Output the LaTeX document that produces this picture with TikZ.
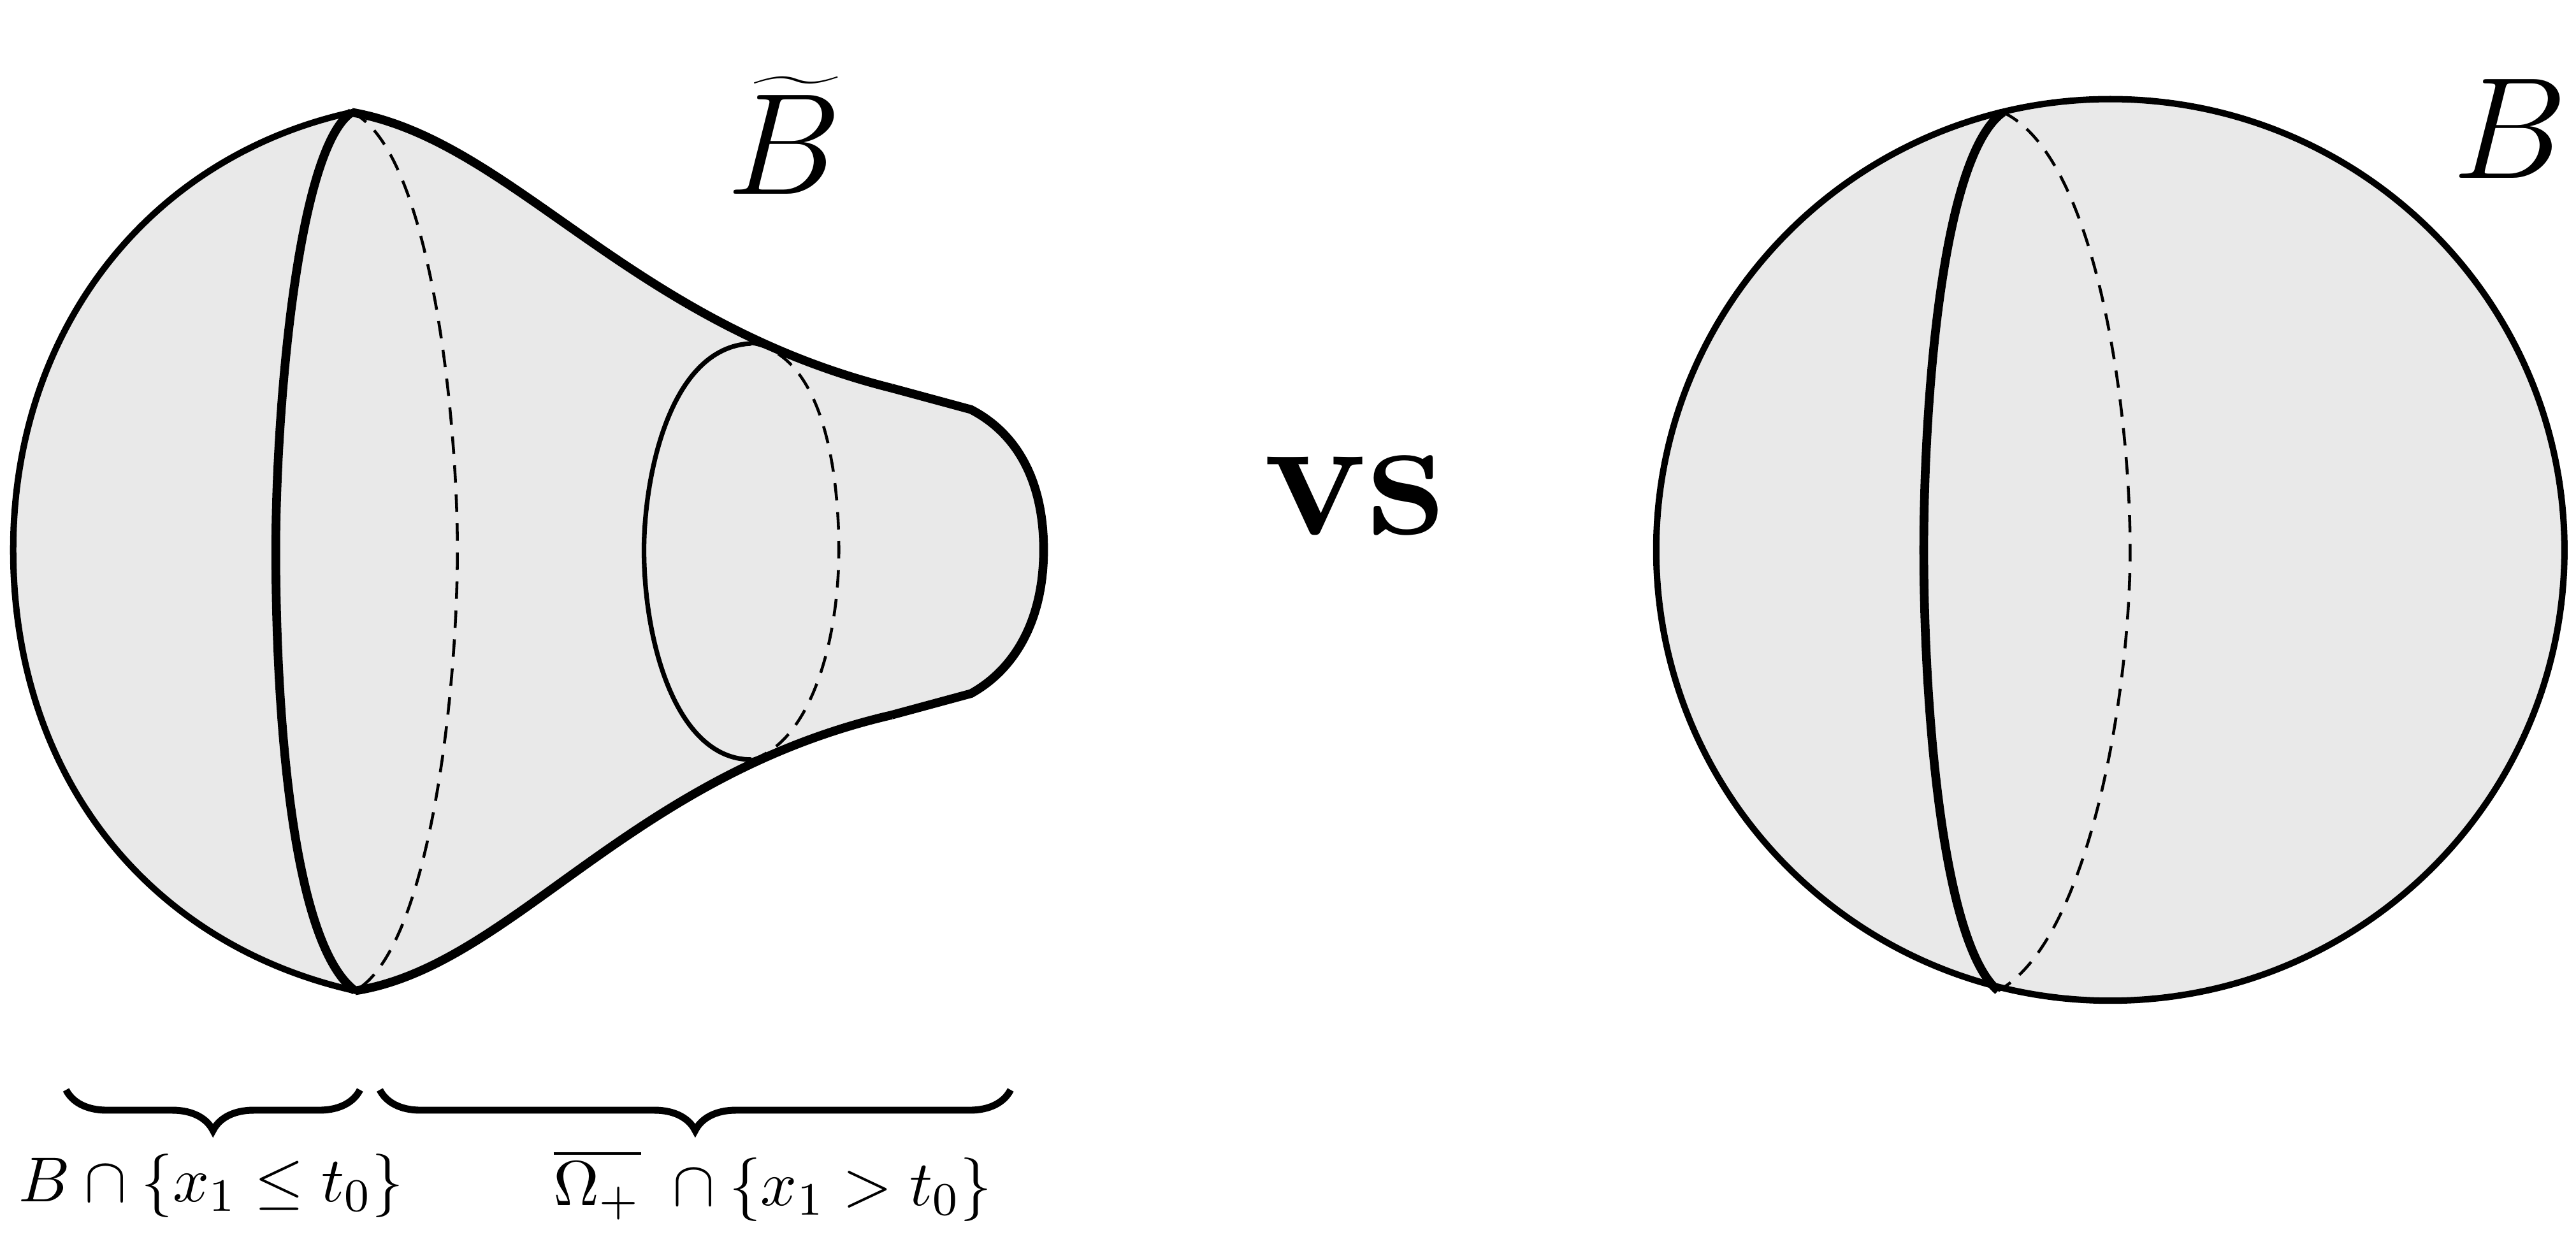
\documentclass[tikz,border=0pt]{standalone}
\usetikzlibrary{decorations.pathreplacing}
\definecolor{shade}{RGB}{233,233,233}
\tikzset{outline/.style={line width=1.1pt},rim/.style={line width=1.5pt},hid/.style={line width=0.5pt,dash pattern=on 3pt off 2pt},
brc/.style={decorate,decoration={brace,amplitude=7pt},line width=1.2pt},lab/.style={font=\fontsize{11}{13}\selectfont}}
\begin{document}
\begin{tikzpicture}[x=0.01cm,y=-0.01cm]
\useasboundingbox (0,0) rectangle (1560,753);
% left body
\filldraw[fill=shade,outline] (213,68) .. controls (90,95) and (8,200) .. (8,333) .. controls (8,470) and (90,572) .. (215,600)
 .. controls (310,585) and (380,470) .. (540,433) -- (588,420) .. controls (615,405) and (632,375) .. (632,333)
 .. controls (632,290) and (615,262) .. (588,248) -- (540,235) .. controls (380,195) and (310,85) .. (213,68) -- cycle;
\draw[rim] (540,235) .. controls (380,195) and (310,85) .. (213,68);
\draw[rim] (540,433) .. controls (380,470) and (310,585) .. (215,600);
\draw[rim] (540,235) -- (588,248) .. controls (615,262) and (632,290) .. (632,333) .. controls (632,375) and (615,405) .. (588,420) -- (540,433);
\draw[rim] (213,68) .. controls (180,90) and (167,250) .. (167,333) .. controls (167,420) and (175,570) .. (215,600);
\draw[hid] (213,68) .. controls (260,90) and (277,250) .. (277,333) .. controls (277,420) and (260,575) .. (215,600);
\draw[line width=0.8pt] (455,208) .. controls (405,210) and (390,290) .. (390,333) .. controls (390,390) and (410,460) .. (455,460);
\draw[hid] (455,208) .. controls (500,215) and (508,290) .. (508,333) .. controls (508,390) and (490,450) .. (455,460);
\node (bt) at (475,82) {\fontsize{32}{38}\selectfont$\widetilde{B}$};
% right sphere
\filldraw[fill=shade,outline] (1278,333) ellipse[x radius=275,y radius=273];
\draw[rim] (1213,68) .. controls (1175,95) and (1165,250) .. (1165,333) .. controls (1165,420) and (1175,570) .. (1210,600);
\draw[hid] (1213,68) .. controls (1270,95) and (1290,250) .. (1290,333) .. controls (1290,420) and (1265,570) .. (1210,600);
\node (b) at (1520,78) {\fontsize{32}{38}\selectfont$B$};
\node (vs) at (820,300) {\fontsize{30}{36}\selectfont\bfseries vs};
% braces
\coordinate (b1a) at (218,660); \coordinate (b1b) at (40,660);
\coordinate (b2a) at (612,660); \coordinate (b2b) at (230,660);
\draw[brc] (b1a) -- (b1b);
\draw[brc] (b2a) -- (b2b);
\node[lab] (l1) at (128,718) {$B\cap\{x_1\le t_0\}$};
\node[lab] (l2) at (468,718) {$\overline{\Omega_+}\;\cap\{x_1> t_0\}$};
\end{tikzpicture}
\end{document}
